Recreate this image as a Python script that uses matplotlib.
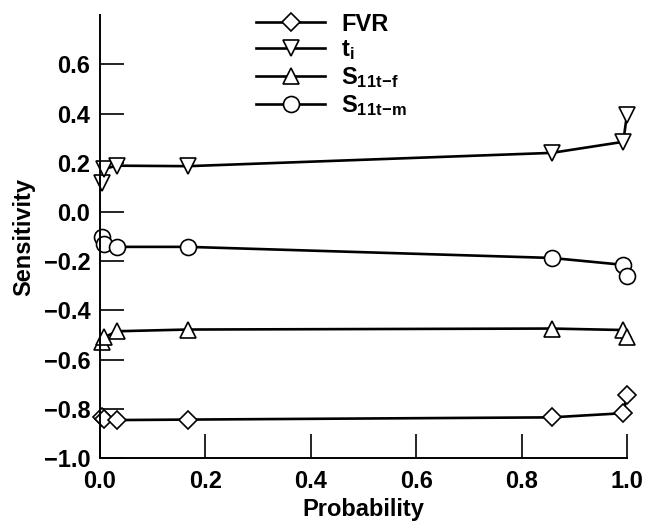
import numpy as np
import matplotlib.pyplot as plt

plt.rcParams['font.family'] = ['Liberation Sans', 'DejaVu Sans']
plt.rcParams['font.weight'] = 'bold'
plt.rcParams['mathtext.fontset'] = 'custom'
plt.rcParams['mathtext.rm'] = 'Liberation Sans:bold'
plt.rcParams['mathtext.it'] = 'Liberation Sans:bold'
plt.rcParams['mathtext.bf'] = 'Liberation Sans:bold'

prob = [0.003, 0.008, 0.032, 0.167, 0.857, 0.993, 1.0]

fvr = [-0.833, -0.840, -0.846, -0.844, -0.835, -0.818, -0.745]
t_i = [0.118, 0.175, 0.188, 0.186, 0.240, 0.285, 0.395]
s11_f = [-0.530, -0.510, -0.485, -0.478, -0.474, -0.480, -0.510]
s11_m = [-0.100, -0.130, -0.142, -0.142, -0.187, -0.215, -0.260]

labels = ['FVR', r'$\mathregular{t_i}$', r'$\mathregular{S_{11t\!-\!f}}$', r'$\mathregular{S_{11t\!-\!m}}$']

fig = plt.figure(figsize=(6.45, 5.21), dpi=100)
ax = fig.add_axes([0.155, 0.121, 0.817, 0.85])

kw = dict(color='black', lw=1.9, mfc='white', mec='black', mew=1.2, clip_on=False)
ax.plot(prob, fvr, marker='D', ms=9.5, label=labels[0], **kw)
ax.plot(prob, t_i, marker='v', ms=12, label=labels[1], **kw)
ax.plot(prob, s11_f, marker='^', ms=12, label=labels[2], **kw)
ax.plot(prob, s11_m, marker='o', ms=11.5, label=labels[3], **kw)

ax.set_xlim(0, 1.0)
ax.set_ylim(-1.0, 0.8)
ax.set_xticks([0.0, 0.2, 0.4, 0.6, 0.8, 1.0])
ax.set_yticks([-1.0, -0.8, -0.6, -0.4, -0.2, 0.0, 0.2, 0.4, 0.6])
ax.set_yticklabels(['\u22121.0', '\u22120.8', '\u22120.6', '\u22120.4', '\u22120.2', '0.0', '0.2', '0.4', '0.6'])
ax.set_xticklabels(['0.0', '0.2', '0.4', '0.6', '0.8', '1.0'])
ax.tick_params(direction='in', length=17, width=1.2, labelsize=17)
ax.tick_params(axis='x', pad=9)
ax.tick_params(axis='y', pad=7)
for s in ['top', 'right']:
    ax.spines[s].set_visible(False)
for s in ['left', 'bottom']:
    ax.spines[s].set_linewidth(1.4)

ax.set_xlabel('Probability', fontsize=17, fontweight='bold', labelpad=3)
ax.set_ylabel('Sensitivity', fontsize=17, fontweight='bold', labelpad=6)

ax.legend(loc='upper center', bbox_to_anchor=(0.44, 1.027), frameon=False, fontsize=17,
          handlelength=2.9, handletextpad=0.7, labelspacing=0.12, borderaxespad=0)

fig.savefig('out.png', dpi=100)
